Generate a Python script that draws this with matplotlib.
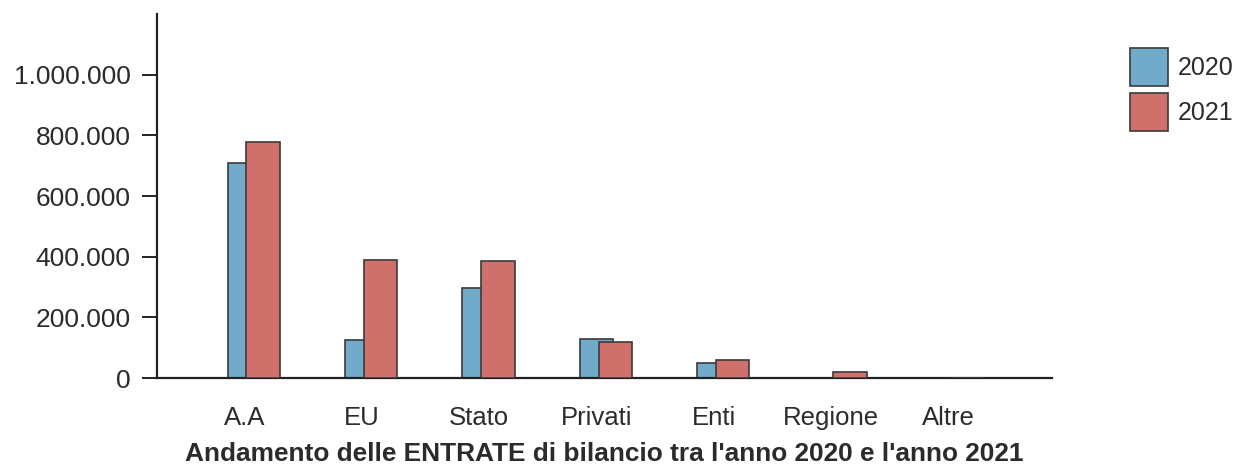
import matplotlib.pyplot as plt
import numpy as np
from matplotlib.patches import Patch
from matplotlib.ticker import FuncFormatter

categories = ['A.A', 'EU', 'Stato', 'Privati', 'Enti', 'Regione', 'Altre']
entrate_2020 = [709000, 124000, 297000, 130000, 50000, 0, 0]
entrate_2021 = [778000, 390000, 386000, 120000, 58000, 20000, 0]
years = ['2020', '2021']
y_ticks = [0, 200000, 400000, 600000, 800000, 1000000]

blue = '#70acca'
red = '#d0706b'
edge = '#3a3a3a'
text_col = '#2b2b2b'

plt.rcParams['font.family'] = ['Liberation Sans', 'DejaVu Sans']

fig = plt.figure(figsize=(12.35, 4.74), dpi=100)
ax = fig.add_axes([157 / 1235, 1 - 378 / 474, (1052 - 157) / 1235, (378 - 14) / 474])

x = np.arange(len(categories))
ax.bar(x, entrate_2020, width=0.285, color=blue, edgecolor=edge, linewidth=1.2, zorder=2)
ax.bar(x + 0.16, entrate_2021, width=0.285, color=red, edgecolor=edge, linewidth=1.2, zorder=3)

ax.set_xlim(-0.745, 6.88)
ax.set_ylim(0, 1200000)
ax.set_yticks(y_ticks)
ax.yaxis.set_major_formatter(FuncFormatter(lambda v, p: f'{v:,.0f}'.replace(',', '.')))
ax.set_xticks(x)
ax.set_xticklabels(categories)

ax.spines['top'].set_visible(False)
ax.spines['right'].set_visible(False)
for s in ['left', 'bottom']:
    ax.spines[s].set_color('#222222')
    ax.spines[s].set_linewidth(1.6)

ax.tick_params(axis='y', direction='out', length=11, width=1.4, color='#222222',
               labelsize=19, labelcolor=text_col, pad=8)
ax.tick_params(axis='x', length=0, labelsize=18.5, labelcolor=text_col, pad=20)

ax.set_xlabel("Andamento delle ENTRATE di bilancio tra l'anno 2020 e l'anno 2021",
              fontsize=18.9, fontweight='bold', color=text_col, labelpad=9)

handles = [Patch(facecolor=blue, edgecolor=edge, linewidth=1.2),
           Patch(facecolor=red, edgecolor=edge, linewidth=1.2)]
fig.legend(handles, years, loc='upper left', bbox_to_anchor=(1130 / 1235, 1 - 48 / 474),
           frameon=False, fontsize=18, handlelength=1.5, handleheight=1.95,
           handletextpad=0.4, labelspacing=0.3, borderpad=0, borderaxespad=0,
           labelcolor=text_col)

fig.savefig('out.png', dpi=100)
